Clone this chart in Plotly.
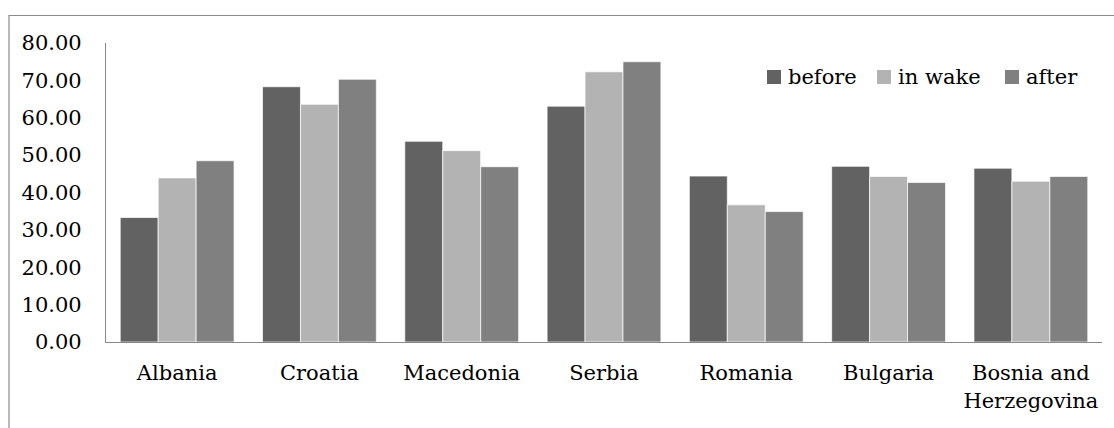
import plotly.graph_objects as go

countries = ["Albania", "Croatia", "Macedonia", "Serbia", "Romania", "Bulgaria",
             "Bosnia and<br>Herzegovina"]
before = [33.3, 68.3, 53.7, 63.1, 44.4, 47.0, 46.5]
in_wake = [43.9, 63.6, 51.2, 72.3, 36.7, 44.3, 43.0]
after = [48.5, 70.3, 46.9, 75.0, 34.9, 42.7, 44.3]

series = [
    ("before", before, "#626262"),
    ("in wake", in_wake, "#b3b3b3"),
    ("after", after, "#808080"),
]

W, H = 1114, 428
L, R, T, B = 106, 12, 42.5, 86.3
FONT = "DejaVu Serif"
pw, ph = W - L - R, H - T - B


def px_x(x):
    return (x - L) / pw


def px_y(y):
    return (H - B - y) / ph


fig = go.Figure()
for name, vals, color in series:
    fig.add_trace(go.Bar(
        x=countries, y=vals, name=name, showlegend=False,
        marker=dict(color=color, line=dict(color="rgba(255,255,255,0.7)", width=1)),
    ))

# outer frame of the chart area (runs off the right and bottom edges)
fig.add_shape(type="rect", xref="paper", yref="paper",
              x0=px_x(9), x1=px_x(W + 5), y0=px_y(H + 5), y1=px_y(15),
              line=dict(color="#8c8c8c", width=1.2), fillcolor="rgba(0,0,0,0)",
              layer="below")

# legend: swatch + label per series, laid out in a row at the upper right
legend_swatch_x = [767, 877, 1005]
for (name, _, color), sx in zip(series, legend_swatch_x):
    fig.add_shape(type="rect", xref="paper", yref="paper",
                  x0=px_x(sx), x1=px_x(sx + 14), y0=px_y(83.5), y1=px_y(69.5),
                  line=dict(width=0), fillcolor=color)
    fig.add_annotation(text=name, xref="paper", yref="paper",
                       x=px_x(sx + 19), y=px_y(77), xanchor="left", yanchor="middle",
                       showarrow=False, font=dict(family=FONT, size=21, color="#000000"))

fig.update_layout(
    width=W, height=H,
    margin=dict(l=L, r=R, t=T, b=B, pad=0),
    paper_bgcolor="white", plot_bgcolor="white",
    font=dict(family=FONT, size=21, color="#000000"),
    barmode="group", bargap=0.2, bargroupgap=0,
    xaxis=dict(showgrid=False, showline=True, linecolor="#878787", linewidth=1.3,
               ticks="", ticklabelstandoff=12, tickangle=0),
    yaxis=dict(range=[0, 80], dtick=10, tickformat=".2f", showgrid=False,
               showline=True, linecolor="#878787", linewidth=1.3,
               ticks="", ticklabelstandoff=19, zeroline=False),
)

fig.write_html("out.html")
